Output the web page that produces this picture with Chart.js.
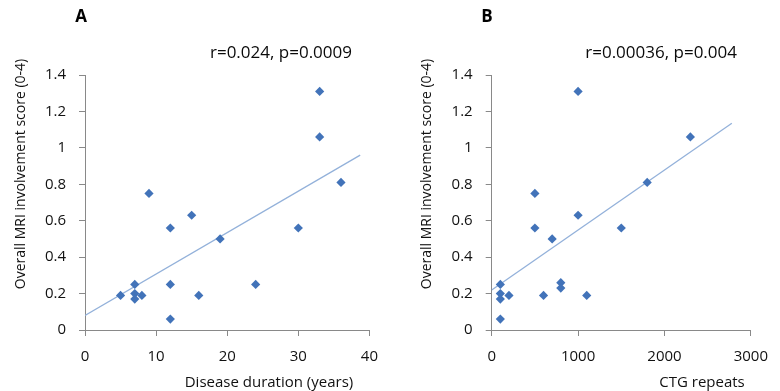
<!DOCTYPE html>
<html>
<head>
<meta charset="utf-8">
<script src="https://cdn.jsdelivr.net/npm/chart.js@4.4.1/dist/chart.umd.min.js"></script>
<style>
  html, body { margin: 0; padding: 0; background: #ffffff; }
  #wrap { position: relative; width: 780px; height: 391px; overflow: hidden; }
  .panel { position: absolute; top: 0; width: 390px; height: 391px; }
</style>
</head>
<body>
<div id="wrap">
  <div class="panel" style="left:0"><canvas id="chartA" width="390" height="391"></canvas></div>
  <div class="panel" style="left:390px"><canvas id="chartB" width="390" height="391"></canvas></div>
</div>
<script>
// ---- Data ----
const durationYears = [5, 7, 7, 7, 8, 9, 12, 12, 12, 15, 16, 19, 24, 30, 33, 33, 36];
const scoreA        = [0.19, 0.25, 0.20, 0.17, 0.19, 0.75, 0.56, 0.25, 0.06, 0.63, 0.19, 0.50, 0.25, 0.56, 1.31, 1.06, 0.81];

const ctgRepeats    = [100, 100, 100, 100, 200, 500, 500, 600, 700, 800, 800, 1000, 1000, 1100, 1500, 1800, 2300];
const scoreB        = [0.25, 0.20, 0.17, 0.06, 0.19, 0.75, 0.56, 0.19, 0.50, 0.26, 0.23, 1.31, 0.63, 0.19, 0.56, 0.81, 1.06];

// Trend line end points
const trendAX = [0, 38.7];
const trendAY = [0.08, 0.96];
const trendBX = [0, 2780];
const trendBY = [0.22, 1.135];

const yTickLabels  = ['0', '0.2', '0.4', '0.6', '0.8', '1', '1.2', '1.4'];
const xTickLabelsA = ['0', '10', '20', '30', '40'];
const xTickLabelsB = ['0', '1000', '2000', '3000'];

const yTitle   = 'Overall MRI involvement score (0-4)';
const xTitleA  = 'Disease duration (years)';
const xTitleB  = 'CTG repeats';
const statsA   = 'r=0.024, p=0.0009';
const statsB   = 'r=0.00036, p=0.004';

const FONT = "'Open Sans', 'Noto Sans', sans-serif";
const AXIS_COLOR = '#898989';
const POINT_COLOR = '#4273B9';
const TREND_COLOR = '#93B1DA';

function toPoints(xs, ys) { return xs.map((x, i) => ({ x: x, y: ys[i] })); }

function textPlugin(cfg) {
  return {
    id: 'panelText',
    afterDraw(chart) {
      const ctx = chart.ctx;
      ctx.save();
      ctx.fillStyle = '#000000';
      ctx.textBaseline = 'middle';
      // panel letter
      ctx.font = "bold 17px " + FONT;
      ctx.textAlign = 'center';
      ctx.fillText(cfg.letter, cfg.letterPos[0], cfg.letterPos[1]);
      // stats
      ctx.font = "17px " + FONT;
      ctx.textAlign = 'right';
      ctx.fillStyle = '#0a0a0a';
      ctx.fillText(cfg.stats, cfg.statsPos[0], cfg.statsPos[1]);
      // x title
      ctx.font = "15px " + FONT;
      ctx.textAlign = 'center';
      ctx.fillStyle = '#111111';
      ctx.fillText(cfg.xTitle, cfg.xTitlePos[0], cfg.xTitlePos[1]);
      // y title
      ctx.font = "14px " + FONT;
      ctx.translate(cfg.yTitlePos[0], cfg.yTitlePos[1]);
      ctx.rotate(-Math.PI / 2);
      ctx.fillText(yTitle, 0, 0);
      ctx.restore();
    }
  };
}

function makeChart(id, xs, ys, tx, ty, xMax, xStep, xLabels, yAxisWidth, rightPad, textCfg) {
  return new Chart(document.getElementById(id), {
    type: 'scatter',
    data: {
      datasets: [
        {
          type: 'line',
          data: toPoints(tx, ty),
          borderColor: TREND_COLOR,
          borderWidth: 1.3,
          pointRadius: 0,
          fill: false,
          order: 2
        },
        {
          data: toPoints(xs, ys),
          pointStyle: 'rectRot',
          pointRadius: 4.6,
          pointBackgroundColor: POINT_COLOR,
          pointBorderColor: POINT_COLOR,
          pointBorderWidth: 0,
          order: 1
        }
      ]
    },
    options: {
      responsive: false,
      animation: false,
      devicePixelRatio: 1,
      layout: { padding: { left: 0, right: rightPad, top: 75, bottom: 0 } },
      plugins: { legend: { display: false }, tooltip: { enabled: false }, title: { display: false } },
      scales: {
        x: {
          type: 'linear',
          min: 0, max: xMax,
          afterFit(s) { s.height = 61; },
          ticks: {
            stepSize: xStep,
            padding: 12,
            color: '#111111',
            font: { family: FONT, size: 15 },
            callback: (v) => { const i = Math.round(v / xStep); return xLabels[i]; }
          },
          grid: { display: true, drawOnChartArea: false, drawTicks: true, tickLength: 6, color: AXIS_COLOR },
          border: { display: true, color: AXIS_COLOR, width: 1 }
        },
        y: {
          type: 'linear',
          min: 0, max: 1.4,
          afterFit(s) { s.width = yAxisWidth; },
          ticks: {
            stepSize: 0.2,
            padding: 13,
            color: '#111111',
            font: { family: FONT, size: 15 },
            callback: (v) => yTickLabels[Math.round(v / 0.2)]
          },
          grid: { display: true, drawOnChartArea: false, drawTicks: true, tickLength: 6, color: AXIS_COLOR },
          border: { display: true, color: AXIS_COLOR, width: 1 }
        }
      }
    },
    plugins: [textPlugin(textCfg)]
  });
}

makeChart('chartA', durationYears, scoreA, trendAX, trendAY, 40, 10, xTickLabelsA, 85, 20, {
  letter: 'A', letterPos: [81, 17],
  stats: statsA, statsPos: [352, 53],
  xTitle: xTitleA, xTitlePos: [269, 383],
  yTitlePos: [21, 174]
});

makeChart('chartB', ctgRepeats, scoreB, trendBX, trendBY, 3000, 1000, xTickLabelsB, 101.7, 21.7, {
  letter: 'B', letterPos: [97, 17],
  stats: statsB, statsPos: [347, 53],
  xTitle: xTitleB, xTitlePos: [312, 383],
  yTitlePos: [37, 174]
});
</script>
</body>
</html>
